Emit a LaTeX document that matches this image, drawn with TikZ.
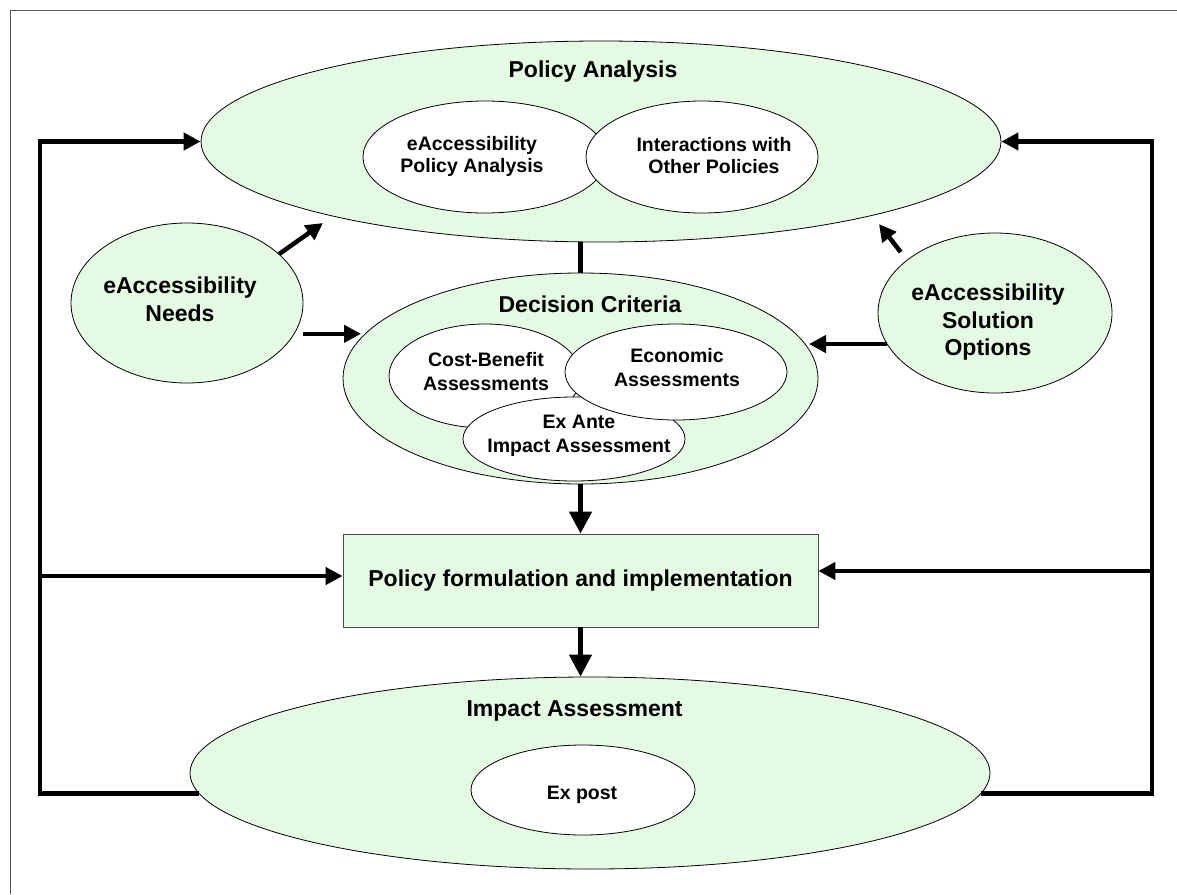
\documentclass[tikz,border=0pt]{standalone}
\usepackage{fontspec}
\setmainfont{Liberation Sans}
\usetikzlibrary{arrows.meta,shapes.geometric,calc}
\definecolor{paleg}{RGB}{228,250,226}
\definecolor{framegray}{RGB}{90,90,90}

\begin{document}
\begin{tikzpicture}[x=1pt,y=-1pt,
  oval/.style={ellipse, draw=black, line width=0.8pt, fill=paleg, inner sep=0pt},
  whiteoval/.style={ellipse, draw=black, line width=0.8pt, fill=white, inner sep=0pt},
  bigtxt/.style={font=\fontsize{23}{27.5}\selectfont\bfseries, align=center, inner sep=0pt},
  smalltxt/.style={font=\fontsize{19.5}{24}\selectfont\bfseries, align=center, inner sep=0pt},
  fb/.style={line width=4.5pt},
  harr/.style={line width=4.5pt, -{Triangle[length=17pt,width=17pt]}},
  varr/.style={line width=4.5pt, -{Triangle[length=22pt,width=22pt]}},
]
\useasboundingbox (0,0) rectangle (1177,894);

% page frame
\draw[framegray, line width=1pt] (10,894) -- (10,10.7) -- (1177,10.7);

% Policy Analysis
\node[oval, minimum width=800pt, minimum height=201pt] (pa) at (601,141.5) {};
\node[whiteoval, minimum width=244pt, minimum height=112pt] (pal) at (485,157) {};
\node[whiteoval, minimum width=232pt, minimum height=112pt] (par) at (702,157) {};
\node[bigtxt] (pa-t) at (593,72) {Policy Analysis};
\node[smalltxt, font=\fontsize{19.5}{22}\selectfont\bfseries] (pal-t) at (472,156) {eAccessibility\\Policy Analysis};
\node[smalltxt, font=\fontsize{19.5}{22}\selectfont\bfseries] (par-t) at (714,156) {Interactions with\\Other Policies};

% side inputs
\node[oval, minimum width=232pt, minimum height=160pt] (needs) at (187,303) {};
\node[bigtxt] (needs-t) at (180,299.5) {eAccessibility\\Needs};
\node[oval, minimum width=234pt, minimum height=160pt] (sol) at (995,313) {};
\node[bigtxt] (sol-t) at (988,322.5) {eAccessibility\\Solution\\Options};

% Decision Criteria
\node[oval, minimum width=475pt, minimum height=211pt] (dc) at (580.5,378.5) {};
\node[bigtxt] (dc-t) at (590,304) {Decision Criteria};
\node[whiteoval, minimum width=192pt, minimum height=104pt] (cb) at (485,376) {};
\node[whiteoval, minimum width=222pt, minimum height=84pt] (exa) at (574,439) {};
\node[whiteoval, minimum width=222pt, minimum height=96pt] (eco) at (676,372) {};
\node[smalltxt] (cb-t) at (486,371.5) {Cost-Benefit\\Assessments};
\node[smalltxt] (eco-t) at (677,367.5) {Economic\\Assessments};
\node[smalltxt] (exa-t) at (579,436) {Ex Ante\\Impact Assessment};

% Policy formulation
\node[draw=black!70, line width=0.8pt, fill=paleg, minimum width=475pt, minimum height=93pt,
      bigtxt] (box) at (580.5,580.5) {Policy formulation and implementation};

% Impact Assessment
\node[oval, minimum width=800pt, minimum height=192pt] (ia) at (590,773) {};
\node[bigtxt] (ia-t) at (574.6,711) {Impact Assessment};
\node[whiteoval, minimum width=224pt, minimum height=90pt] (expost) at (583,790) {};
\node[smalltxt] (expost-t) at (582,795) {Ex post};

% feedback loops
\coordinate (L) at (40,0);
\coordinate (R) at (1152,0);
\draw[harr] (ia.183.7) -| (L |- pa.west) -- (pa.west);
\draw[harr] (ia.-3.7) -| (R |- pa.east) -- (pa.east);
\coordinate (lb) at (40,576);
\coordinate (rb) at (1152,571);
\draw[harr] (lb) -- (lb -| box.west);
\draw[harr] (rb) -- (rb -| box.east);

% main flow
\draw[fb] (dc.north |- pa.south) -- (dc.north);
\draw[varr] (dc.south) -- (box.north);
\draw[varr] (box.south) -- (box.south |- ia.north);

% inputs
\coordinate (t1) at (323,223);
\coordinate (t2) at (879,224);
\coordinate (dcL) at (361,0);
\coordinate (dcR) at (809,0);
\draw[harr] (needs.28) -- (t1);
\draw[harr, shorten <=10pt] (sol.149.4) -- (t2);
\draw[harr, shorten <=8pt] (needs.-16.2) -- (needs.-16.2 -| dcL);
\draw[harr] (sol.196) -- (sol.196 -| dcR);
\end{tikzpicture}
\end{document}
